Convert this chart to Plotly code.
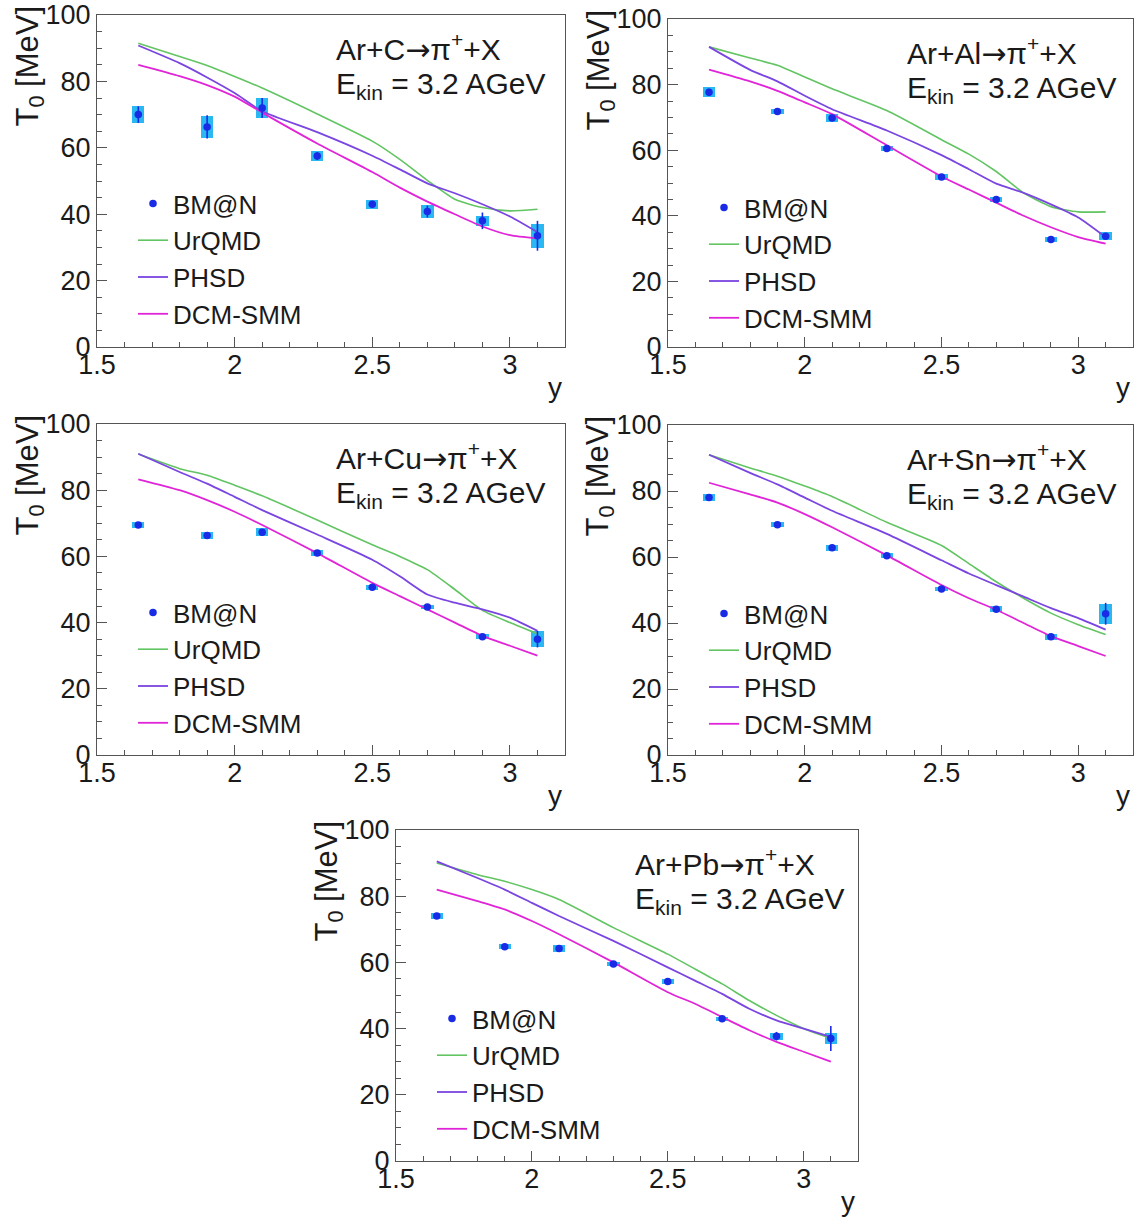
import plotly.graph_objects as go
import numpy as np

W, H = 1137, 1219

# ---------------- data ----------------
BMN_RAPIDITY = [1.65, 1.9, 2.1, 2.3, 2.5, 2.7, 2.9, 3.1]
MODEL_RAPIDITY = [1.65, 1.8, 1.9, 2.0, 2.1, 2.3, 2.5, 2.6, 2.7, 2.8, 2.9, 3.0, 3.1]

TARGETS = ["C", "Al", "Cu", "Sn", "Pb"]

# BM@N T0 values [MeV], statistical and systematic errors
T0_C = [70.0, 66.3, 72.0, 57.5, 43.0, 40.8, 38.0, 33.5]
STAT_C = [2.5, 3.5, 3.0, 1.2, 1.0, 1.8, 2.5, 4.5]
SYS_C = [2.6, 3.4, 2.9, 1.5, 1.4, 1.9, 1.6, 3.6]

T0_AL = [77.7, 71.8, 69.8, 60.5, 51.8, 45.0, 32.8, 33.8]
STAT_AL = [1.0, 0.7, 1.0, 0.8, 0.7, 0.7, 0.8, 1.0]
SYS_AL = [1.5, 0.8, 1.2, 0.8, 0.8, 0.7, 0.8, 1.2]

T0_CU = [69.5, 66.3, 67.3, 61.0, 50.7, 44.7, 35.7, 35.0]
STAT_CU = [0.8, 0.8, 1.0, 0.8, 0.7, 0.7, 0.8, 2.5]
SYS_CU = [1.0, 1.0, 1.2, 0.8, 0.7, 0.7, 0.8, 2.5]

T0_SN = [78.0, 69.8, 62.8, 60.4, 50.3, 44.2, 35.8, 42.8]
STAT_SN = [0.8, 0.7, 0.8, 0.8, 0.8, 0.8, 0.8, 3.3]
SYS_SN = [1.0, 0.8, 0.9, 0.8, 0.7, 0.9, 0.9, 3.0]

T0_PB = [74.0, 64.7, 64.2, 59.5, 54.2, 43.0, 37.7, 37.0]
STAT_PB = [0.7, 0.7, 0.8, 0.7, 0.8, 0.7, 1.3, 3.8]
SYS_PB = [0.8, 0.8, 1.0, 0.7, 0.8, 0.6, 1.0, 1.8]

# model curves [MeV] on MODEL_RAPIDITY
URQMD_C = [91.5, 87.5, 84.8, 81.5, 78.0, 70.2, 62.0, 56.5, 50.2, 44.5, 42.0, 41.0, 41.5]
PHSD_C = [90.8, 85.5, 81.2, 76.5, 71.0, 64.7, 57.6, 53.5, 49.3, 46.3, 43.0, 39.3, 34.6]
DCM_C = [85.0, 81.6, 78.9, 75.4, 70.6, 61.3, 52.7, 48.0, 43.8, 40.0, 36.3, 33.7, 32.7]

URQMD_AL = [91.5, 88.1, 85.9, 82.3, 78.7, 72.1, 63.2, 58.8, 53.5, 47.0, 42.8, 41.2, 41.2]
PHSD_AL = [91.5, 84.5, 81.0, 76.6, 72.5, 66.0, 58.5, 54.2, 49.8, 47.0, 43.5, 39.5, 33.5]
DCM_AL = [84.6, 81.0, 78.1, 74.6, 71.0, 61.5, 52.0, 48.0, 44.0, 40.0, 36.5, 33.5, 31.5]

URQMD_CU = [90.9, 86.5, 84.5, 81.5, 78.3, 71.0, 63.5, 60.0, 56.0, 50.0, 43.7, 40.0, 36.6]
PHSD_CU = [91.0, 85.5, 82.0, 78.0, 74.0, 66.6, 59.0, 54.0, 48.5, 46.0, 44.0, 41.5, 37.5]
DCM_CU = [83.3, 80.0, 77.0, 73.5, 69.5, 61.0, 52.0, 48.0, 44.0, 40.0, 36.0, 33.0, 30.0]

URQMD_SN = [91.0, 87.0, 84.5, 81.5, 78.3, 70.5, 63.5, 58.0, 52.5, 47.5, 43.0, 39.5, 36.5]
PHSD_SN = [91.0, 85.5, 82.0, 78.0, 74.0, 67.0, 59.0, 55.0, 51.5, 48.0, 44.5, 41.5, 38.0]
DCM_SN = [82.5, 79.0, 76.5, 73.0, 69.0, 60.5, 51.5, 47.5, 44.0, 40.0, 36.0, 33.0, 30.0]

URQMD_PB = [90.0, 86.5, 84.5, 82.0, 79.0, 70.5, 62.5, 58.0, 53.5, 48.5, 44.0, 40.0, 37.0]
PHSD_PB = [90.5, 85.5, 82.0, 78.0, 74.0, 66.5, 58.5, 54.5, 50.5, 46.0, 42.5, 40.0, 37.5]
DCM_PB = [82.0, 78.5, 76.0, 72.5, 68.5, 60.0, 51.0, 47.5, 43.5, 39.5, 36.0, 33.0, 30.0]

PANEL_DATA = [
    (T0_C, STAT_C, SYS_C, URQMD_C, PHSD_C, DCM_C),
    (T0_AL, STAT_AL, SYS_AL, URQMD_AL, PHSD_AL, DCM_AL),
    (T0_CU, STAT_CU, SYS_CU, URQMD_CU, PHSD_CU, DCM_CU),
    (T0_SN, STAT_SN, SYS_SN, URQMD_SN, PHSD_SN, DCM_SN),
    (T0_PB, STAT_PB, SYS_PB, URQMD_PB, PHSD_PB, DCM_PB),
]

X_TICKS = [1.5, 2.0, 2.5, 3.0]
X_TICKTEXT = ["1.5", "2", "2.5", "3"]
Y_TICKS = [0, 20, 40, 60, 80, 100]
Y_TICKTEXT = ["0", "20", "40", "60", "80", "100"]

# ---------------- style ----------------
FONT = "Liberation Sans, Arial, Helvetica, sans-serif"
TXT = "#1a1a1a"
C_POINT = "#1a2be6"
C_BOX = "#2ab8f2"
C_URQMD = "#62c462"
C_PHSD = "#7a45e0"
C_DCM = "#e025d8"

# panel pixel boxes: left, top, right, bottom
PANELS = [
    (97, 15, 565, 347),
    (668, 19, 1133, 347),
    (97, 424, 565, 755),
    (668, 425, 1133, 755),
    (396, 830, 858, 1161),
]


def px(x):
    return x / W


def py(y):
    return 1 - y / H


fig = go.Figure()

for i, (tgt, (t0, st, sy, uq, ph, dc)) in enumerate(zip(TARGETS, PANEL_DATA)):
    n = i + 1
    xa = "x" if n == 1 else f"x{n}"
    ya = "y" if n == 1 else f"y{n}"
    lg = "legend" if n == 1 else f"legend{n}"
    t0a = np.array(t0)
    sya = np.array(sy)
    # systematic boxes
    fig.add_trace(go.Bar(
        x=BMN_RAPIDITY, y=2 * sya, base=t0a - sya, width=0.045,
        marker=dict(color=C_BOX, line=dict(width=0)),
        xaxis=xa, yaxis=ya, showlegend=False, hoverinfo="skip",
    ))
    fig.add_trace(go.Scatter(
        x=MODEL_RAPIDITY, y=uq, mode="lines", name="UrQMD",
        line=dict(color=C_URQMD, width=1.6, shape="spline", smoothing=0.6),
        xaxis=xa, yaxis=ya, legend=lg, legendrank=2,
    ))
    fig.add_trace(go.Scatter(
        x=MODEL_RAPIDITY, y=ph, mode="lines", name="PHSD",
        line=dict(color=C_PHSD, width=1.8, shape="spline", smoothing=0.6),
        xaxis=xa, yaxis=ya, legend=lg, legendrank=3,
    ))
    fig.add_trace(go.Scatter(
        x=MODEL_RAPIDITY, y=dc, mode="lines", name="DCM-SMM",
        line=dict(color=C_DCM, width=1.8, shape="spline", smoothing=0.6),
        xaxis=xa, yaxis=ya, legend=lg, legendrank=4,
    ))
    fig.add_trace(go.Scatter(
        x=BMN_RAPIDITY, y=t0, mode="markers", name="BM@N",
        marker=dict(color=C_POINT, size=7.5, symbol="circle"),
        error_y=dict(type="data", array=st, color=C_POINT, thickness=1.6, width=0),
        xaxis=xa, yaxis=ya, legend=lg, legendrank=1,
    ))

    L, T, R, B = PANELS[i]
    axis_common = dict(
        showline=True, mirror=True, linecolor="#555555", linewidth=1,
        showgrid=False, zeroline=False, ticks="inside", tickcolor="#555555",
        tickfont=dict(family=FONT, size=27, color=TXT),
    )
    fig.update_layout(**{
        ("xaxis" if n == 1 else f"xaxis{n}"): dict(
            domain=[px(L), px(R)], anchor=ya, range=[1.5, 3.2],
            tickvals=X_TICKS, ticktext=X_TICKTEXT, ticklen=10,
            ticklabelstandoff=-6,
            minor=dict(dtick=0.1, tick0=1.5, ticks="inside", ticklen=5, tickcolor="#555555"),
            **axis_common,
        ),
        ("yaxis" if n == 1 else f"yaxis{n}"): dict(
            domain=[py(B), py(T)], anchor=xa, range=[0, 100],
            tickvals=Y_TICKS, ticktext=Y_TICKTEXT, ticklen=10,
            minor=dict(dtick=5, tick0=0, ticks="inside", ticklen=5, tickcolor="#555555"),
            **axis_common,
        ),
        lg: dict(
            x=px(L + 36), y=py(T + 165), xanchor="left", yanchor="top",
            bgcolor="rgba(0,0,0,0)", borderwidth=0,
            font=dict(family=FONT, size=26, color=TXT),
            traceorder="normal", itemwidth=30,
        ),
    })
    # reaction label
    fig.add_annotation(
        x=px(L + 237), y=py(T + 32), xref="paper", yref="paper",
        text=(f"Ar+{tgt}<span style='font-family:DejaVu Sans'>\u2192</span>"
              "\u03c0<sup>+</sup>+X"),
        showarrow=False, xanchor="left", yanchor="middle",
        font=dict(family=FONT, size=30, color=TXT),
    )
    fig.add_annotation(
        x=px(L + 237), y=py(T + 70), xref="paper", yref="paper",
        text="E<sub>kin</sub> = 3.2 AGeV", showarrow=False,
        xanchor="left", yanchor="middle",
        font=dict(family=FONT, size=30, color=TXT),
    )
    # axis titles
    fig.add_annotation(
        x=px(L - 68), y=py(T - 11), xref="paper", yref="paper",
        text="T<sub>0</sub> [MeV]", showarrow=False, textangle=-90,
        xanchor="center", yanchor="top",
        font=dict(family=FONT, size=31, color=TXT),
    )
    fig.add_annotation(
        x=px(R - 1), y=py(B + 40), xref="paper", yref="paper",
        text="y", showarrow=False,
        xanchor="right", yanchor="middle",
        font=dict(family=FONT, size=28, color=TXT),
    )

fig.update_layout(
    width=W, height=H,
    margin=dict(l=0, r=0, t=0, b=0, autoexpand=False),
    paper_bgcolor="white", plot_bgcolor="white",
    barmode="overlay", bargap=0,
    font=dict(family=FONT, color=TXT),
)

fig.write_html("out.html")
